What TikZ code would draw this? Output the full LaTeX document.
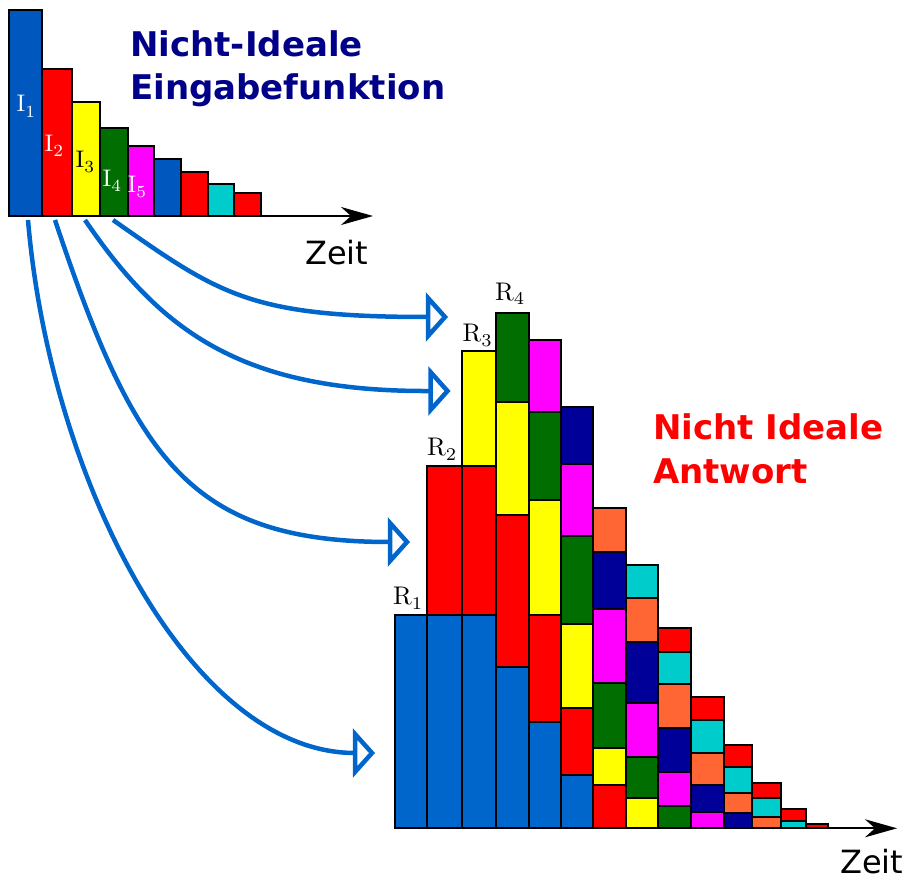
\documentclass[tikz,border=0pt]{standalone}
\usepackage{fontspec}
\newfontfamily\dejavu{DejaVu Sans}
\newfontfamily\lmten{lmroman10-regular.otf}
\newfontfamily\lmseven{lmroman7-regular.otf}
\usetikzlibrary{arrows.meta}
\definecolor{cblue}{HTML}{0066CC}
\definecolor{iblue}{HTML}{0057BE}
\definecolor{cred}{HTML}{FF0000}
\definecolor{cyel}{HTML}{FFFF00}
\definecolor{cgreen}{HTML}{006E00}
\definecolor{cmag}{HTML}{FF00FF}
\definecolor{cnavy}{HTML}{000099}
\definecolor{corange}{HTML}{FF6633}
\definecolor{ccyan}{HTML}{00CCCC}
\definecolor{ctitle}{HTML}{000088}
\newcommand\rblock[5]{\draw[blockstyle, fill=#5] (#1,#3) rectangle (#2,#4);}
\newcommand\isub[2]{#1\raisebox{-5.5pt}{\lmseven\fontsize{17}{17}\selectfont #2}}
\newcommand\rsub[2]{#1\raisebox{-5pt}{\lmseven\fontsize{18}{18}\selectfont #2}}
\newcommand\openhead[1]{\draw[headstyle] ([yshift=19pt]#1) -- ([xshift=17pt]#1) -- ([yshift=-19pt]#1) -- cycle;}
\begin{document}
\begin{tikzpicture}[x=1pt,y=-1pt,
  blockstyle/.style={draw=black, line width=2pt},
  axisstyle/.style={draw=black, line width=2pt, -{Stealth[length=32pt, width=18pt, inset=10pt]}},
  flow/.style={draw=cblue, line width=4.5pt},
  headstyle/.style={draw=cblue, fill=white, line width=4.5pt, line join=miter},
  titlefont/.style={font=\dejavu\bfseries\fontsize{34}{40}\selectfont, inner sep=0pt, anchor=base west},
  zeitfont/.style={font=\dejavu\fontsize{32}{38}\selectfont, inner sep=0pt, anchor=base west},
  ilabel/.style={font=\lmten\fontsize{24}{28}\selectfont, inner sep=0pt, anchor=base west},
  rlabel/.style={font=\lmten\fontsize{25.5}{30}\selectfont, inner sep=0pt, anchor=base west}]
\useasboundingbox (0,0) rectangle (914,880);

% ---- input function ----
\rblock{9}{41.7}{10}{216}{iblue}
\rblock{41.7}{72.3}{69.3}{216}{cred}
\rblock{72.3}{100.3}{101.7}{216}{cyel}
\rblock{100.3}{127.7}{127.7}{216}{cgreen}
\rblock{127.7}{154}{145.7}{216}{cmag}
\rblock{154}{181}{159}{216}{iblue}
\rblock{181}{207.7}{172.3}{216}{cred}
\rblock{207.7}{234.3}{183.7}{216}{ccyan}
\rblock{234.3}{261}{193}{216}{cred}
\coordinate (ax1s) at (9,216);
\coordinate (ax1e) at (373,216);
\draw[axisstyle] (ax1s) -- (ax1e);

\node[ilabel, text=white] (i1) at (16.5,112) {\isub{I}{1}};
\node[ilabel, text=white] (i2) at (44.5,151.5) {\isub{I}{2}};
\node[ilabel, text=black] (i3) at (75.5,167.5) {\isub{I}{3}};
\node[ilabel, text=white] (i4) at (102.5,186.5) {\isub{I}{4}};
\node[ilabel, text=white] (i5) at (127.5,192.5) {\isub{I}{5}};

\node[titlefont, text=ctitle] (t1) at (130,57) {Nicht-Ideale};
\node[titlefont, text=ctitle] (t2) at (130,100) {Eingabefunktion};
\node[zeitfont] (z1) at (305,265) {Zeit};

% ---- response ----
% col 1
\rblock{395}{426.7}{615}{828.3}{cblue}
% col 2
\rblock{426.7}{461.7}{615}{828.3}{cblue}
\rblock{426.7}{461.7}{466}{615}{cred}
% col 3
\rblock{461.7}{495.7}{615}{828.3}{cblue}
\rblock{461.7}{495.7}{466}{615}{cred}
\rblock{461.7}{495.7}{351}{466}{cyel}
% col 4
\rblock{495.7}{529}{666.7}{828.3}{cblue}
\rblock{495.7}{529}{515}{666.7}{cred}
\rblock{495.7}{529}{401.7}{515}{cyel}
\rblock{495.7}{529}{313.3}{401.7}{cgreen}
% col 5
\rblock{529}{561}{722.3}{828.3}{cblue}
\rblock{529}{561}{615}{722.3}{cred}
\rblock{529}{561}{500}{615}{cyel}
\rblock{529}{561}{411.7}{500}{cgreen}
\rblock{529}{561}{340}{411.7}{cmag}
% col 6
\rblock{561}{593.3}{775}{828.3}{cblue}
\rblock{561}{593.3}{707.7}{775}{cred}
\rblock{561}{593.3}{624}{707.7}{cyel}
\rblock{561}{593.3}{536}{624}{cgreen}
\rblock{561}{593.3}{464.3}{536}{cmag}
\rblock{561}{593.3}{406.7}{464.3}{cnavy}
% col 7
\rblock{593.3}{626}{785}{828.3}{cred}
\rblock{593.3}{626}{748.3}{785}{cyel}
\rblock{593.3}{626}{682.7}{748.3}{cgreen}
\rblock{593.3}{626}{609.3}{682.7}{cmag}
\rblock{593.3}{626}{551.7}{609.3}{cnavy}
\rblock{593.3}{626}{508.3}{551.7}{corange}
% col 8
\rblock{626}{658.3}{798.3}{828.3}{cyel}
\rblock{626}{658.3}{756.7}{798.3}{cgreen}
\rblock{626}{658.3}{703.3}{756.7}{cmag}
\rblock{626}{658.3}{641.7}{703.3}{cnavy}
\rblock{626}{658.3}{598.3}{641.7}{corange}
\rblock{626}{658.3}{565}{598.3}{ccyan}
% col 9
\rblock{658.3}{691}{806}{828.3}{cgreen}
\rblock{658.3}{691}{771.7}{806}{cmag}
\rblock{658.3}{691}{728.3}{771.7}{cnavy}
\rblock{658.3}{691}{684}{728.3}{corange}
\rblock{658.3}{691}{651.7}{684}{ccyan}
\rblock{658.3}{691}{628.3}{651.7}{cred}
% col 10
\rblock{691}{724}{811.7}{828.3}{cmag}
\rblock{691}{724}{785}{811.7}{cnavy}
\rblock{691}{724}{752.7}{785}{corange}
\rblock{691}{724}{720}{752.7}{ccyan}
\rblock{691}{724}{696.7}{720}{cred}
% col 11
\rblock{724}{752.3}{812.7}{828.3}{cnavy}
\rblock{724}{752.3}{792.7}{812.7}{corange}
\rblock{724}{752.3}{767.3}{792.7}{ccyan}
\rblock{724}{752.3}{745}{767.3}{cred}
% col 12
\rblock{752.3}{781}{817.3}{828.3}{corange}
\rblock{752.3}{781}{798.3}{817.3}{ccyan}
\rblock{752.3}{781}{782.7}{798.3}{cred}
% col 13
\rblock{781}{805.7}{821}{828.3}{ccyan}
\rblock{781}{805.7}{809.3}{821}{cred}
% col 14
\rblock{805.7}{828.3}{824.3}{828.3}{cred}

\coordinate (ax2s) at (395,828.3);
\coordinate (ax2e) at (897,828.3);
\draw[axisstyle] (ax2s) -- (ax2e);

\node[rlabel] (r1) at (393,604) {\rsub{R}{1}};
\node[rlabel] (r2) at (427,455) {\rsub{R}{2}};
\node[rlabel] (r3) at (462.5,341.5) {\rsub{R}{3}};
\node[rlabel] (r4) at (495,300) {\rsub{R}{4}};

\node[titlefont, text=cred] (t3) at (653,439) {Nicht Ideale};
\node[titlefont, text=cred] (t4) at (653,483) {Antwort};
\node[zeitfont] (z2) at (840,873) {Zeit};

% ---- connectors ----
\coordinate (s1) at (28,220);
\coordinate (s2) at (55,220);
\coordinate (s3) at (85,220);
\coordinate (s4) at (113,220);
\coordinate (e1) at (355,753);
\coordinate (e2) at (390,542);
\coordinate (e3) at (430.5,391);
\coordinate (e4) at (428,317);
\draw[flow] (s1) .. controls (50,480) and (190,753) .. (e1);
\draw[flow] (s2) .. controls (135,460) and (190,542) .. (e2);
\draw[flow] (s3) .. controls (160,330) and (240,392) .. (e3);
\draw[flow] (s4) .. controls (220,295) and (250,317) .. (e4);
\openhead{e1}
\openhead{e2}
\openhead{e3}
\openhead{e4}
\end{tikzpicture}
\end{document}
